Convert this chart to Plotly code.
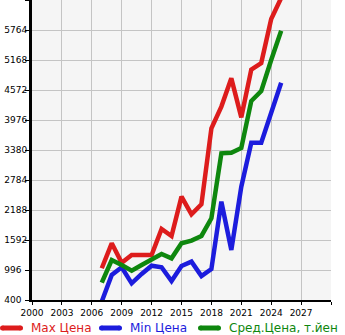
import plotly.graph_objects as go

years = list(range(2007, 2026))
max_price = [1030, 1526, 1141, 1294, 1294, 1294, 1811, 1672, 2453, 2102, 2301,
             3811, 4242, 4804, 4029, 4976, 5108, 5983, 6400]
min_price = [370, 897, 1050, 731, 917, 1082, 1050, 777, 1075, 1162, 877,
             1016, 2353, 1393, 2651, 3525, 3525, 4108, 4717]
avg_price = [744, 1195, 1095, 983, 1095, 1195, 1314, 1228, 1526, 1579, 1672,
             2023, 3314, 3327, 3420, 4353, 4552, 5168, 5750]

series_names = ["Max Цена", "Min Цена", "Сред.Цена, т.йен"]

x_ticks = [2000, 2003, 2006, 2009, 2012, 2015, 2018, 2021, 2024, 2027, 2030]
x_labels = ["2000", "2003", "2006", "2009", "2012", "2015", "2018", "2021", "2024", "2027", ""]
y_ticks = [400, 996, 1592, 2188, 2784, 3380, 3976, 4572, 5168, 5764, 6360]
y_labels = ["400", "996", "1592", "2188", "2784", "3380", "3976", "4572", "5168", "5764", ""]

RED = "#dd1c1c"
BLUE = "#1c1cdd"
GREEN = "#0e870e"
colors = [RED, BLUE, GREEN]

W, H = 345, 335
ML, MR, MT, MB = 32, 14, 0, 35
PW, PH = W - ML - MR, H - MT - MB

def px_x(p):
    return (p - ML) / PW

def px_y(p):
    return (H - MB - p) / PH

# left-align the y labels by padding short ones with figure spaces
y_text = [t + "\u2007" * (4 - len(t)) for t in y_labels]

fig = go.Figure()
for name, vals, col in zip(series_names, [max_price, min_price, avg_price], colors):
    fig.add_trace(go.Scatter(
        x=years, y=vals, mode="lines", name=name,
        line=dict(color=col, width=4.5),
        showlegend=False,
    ))

# manual legend
legend_x = [0, 99, 198]
leg_y = 328
for name, col, lx in zip(series_names, colors, legend_x):
    fig.add_shape(type="line", xref="paper", yref="paper",
                  x0=px_x(lx + 2.5), x1=px_x(lx + 20.5), y0=px_y(leg_y), y1=px_y(leg_y),
                  line=dict(color=col, width=5))
    for cx in (lx + 2.5, lx + 20.5):
        fig.add_shape(type="circle", xref="paper", yref="paper",
                      x0=px_x(cx - 2.5), x1=px_x(cx + 2.5),
                      y0=px_y(leg_y + 2.5), y1=px_y(leg_y - 2.5),
                      fillcolor=col, line=dict(width=0))
    fig.add_annotation(xref="paper", yref="paper", x=px_x(lx + 28.5), y=px_y(leg_y),
                       xanchor="left", yanchor="middle", showarrow=False,
                       text=name, font=dict(color=col, size=12, family="DejaVu Sans"))

fig.update_layout(
    width=W, height=H,
    margin=dict(l=ML, r=MR, t=MT, b=MB),
    paper_bgcolor="white",
    plot_bgcolor="#f5f5f5",
    font=dict(family="DejaVu Sans", size=9, color="black"),
    showlegend=False,
    xaxis=dict(
        range=[2000, 2030], tickvals=x_ticks, ticktext=x_labels,
        showgrid=True, gridcolor="#c4c4c4", gridwidth=1,
        showline=True, linecolor="black", linewidth=2,
        ticks="outside", ticklen=3, tickcolor="black",
        zeroline=False, fixedrange=True, automargin=False,
    ),
    yaxis=dict(
        range=[400, 6360], tickvals=y_ticks, ticktext=y_text,
        showgrid=True, gridcolor="#c4c4c4", gridwidth=1,
        showline=True, linecolor="black", linewidth=3,
        ticks="outside", ticklen=4, tickcolor="black",
        ticklabelstandoff=-4,
        zeroline=False, fixedrange=True, automargin=False,
    ),
)

fig.write_html("out.html")
